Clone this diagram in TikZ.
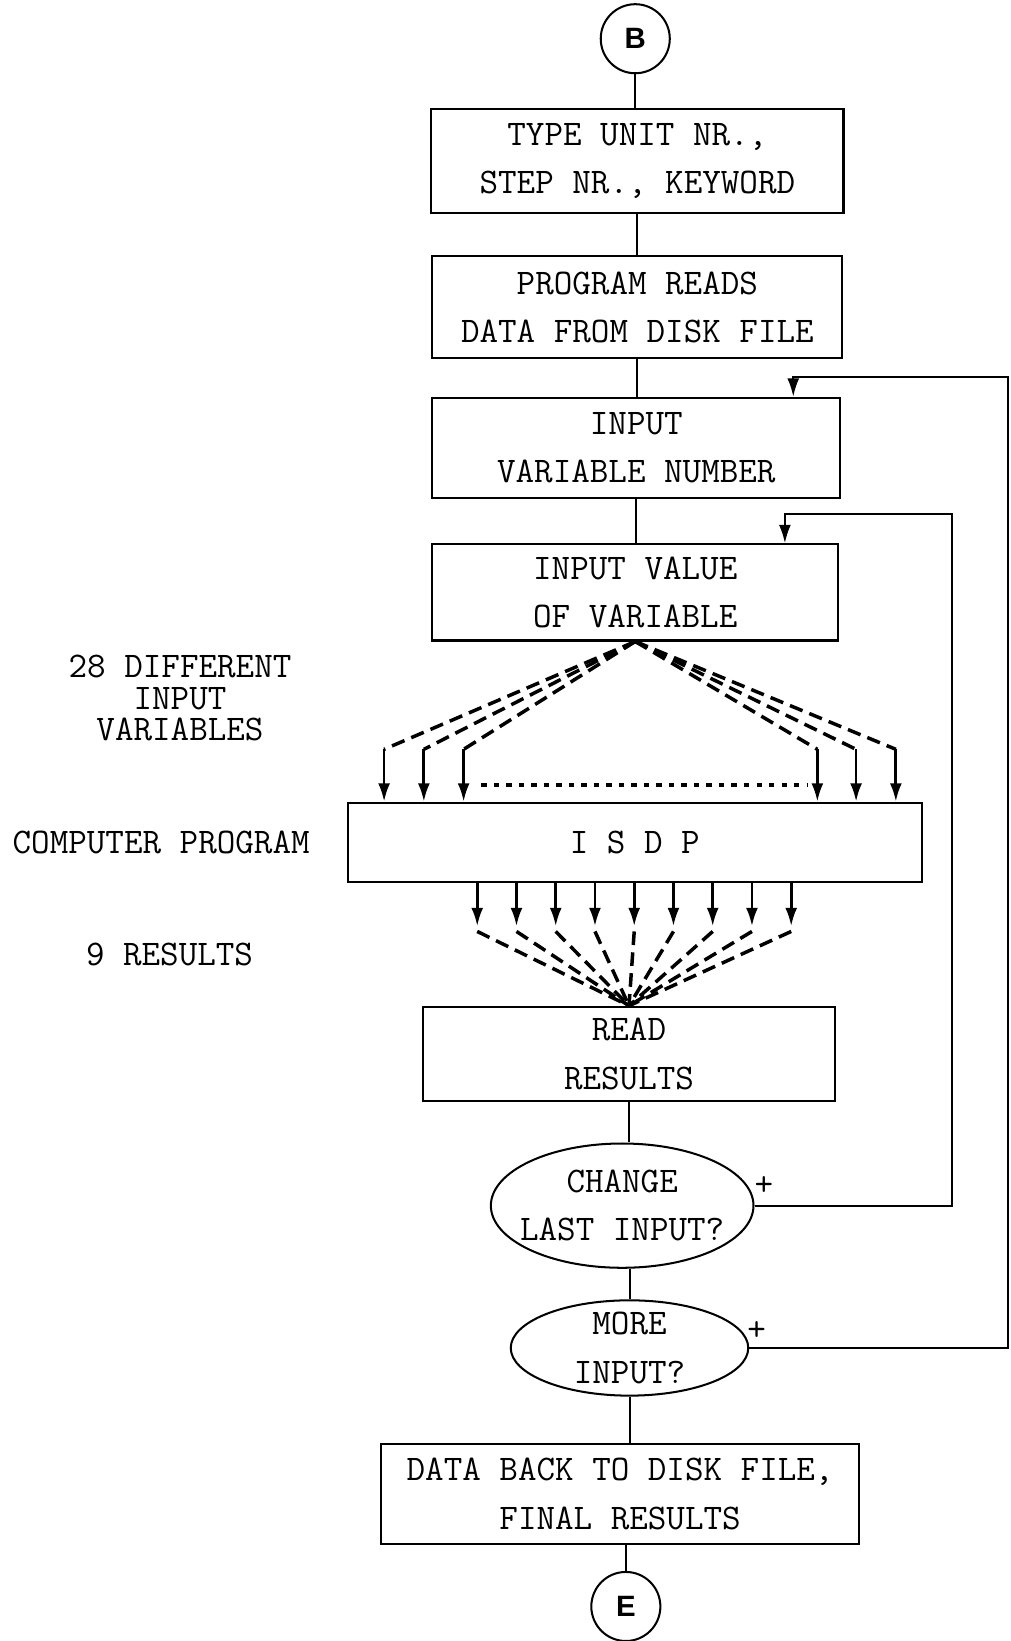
\documentclass[tikz,border=0pt]{standalone}
\usepackage{fontspec}
\newfontfamily\labelsans{Liberation Sans}
\usetikzlibrary{arrows.meta,shapes.geometric}
\tikzset{stepbox/.style={draw, line width=1.1pt, align=center, inner sep=0pt}}
\tikzset{decision/.style={draw, ellipse, line width=1.1pt, align=center}}
\tikzset{connector/.style={draw, circle, line width=1.1pt, minimum size=1.32cm, inner sep=0pt,
		font=\labelsans\bfseries\fontsize{16}{18}\selectfont}}
\tikzset{fan/.style={line width=1.9pt, dash pattern=on 0.26cm off 0.14cm}}
\tikzset{dotrow/.style={line width=1.8pt, dash pattern=on 2.8pt off 4pt}}
\tikzset{feed/.style={line width=1.5pt}}

\begin{document}
\begin{tikzpicture}[x=0.02cm, y=-0.02cm, line width=1.1pt, >={Latex[length=10pt,width=6.5pt]},
			font=\ttfamily\fontsize{19.6}{26.2}\selectfont]
			\useasboundingbox (0,0) rectangle (966,1568);
			\node[connector] at (607,37) (b) {B};
			\node[stepbox, minimum width=7.88cm, minimum height=2.0cm] at (609,154) (unit) {TYPE UNIT NR.,\\STEP NR., KEYWORD};
			\node[stepbox, minimum width=7.84cm, minimum height=1.94cm] at (609,293.5) (disk) {PROGRAM READS\\DATA FROM DISK FILE};
			\node[stepbox, minimum width=7.80cm, minimum height=1.92cm] at (608,428) (varnum) {INPUT\\VARIABLE NUMBER};
			\node[stepbox, minimum width=7.76cm, minimum height=1.84cm] at (607,566) (val) {INPUT VALUE\\OF VARIABLE};
			\node[stepbox, minimum width=10.98cm, minimum height=1.52cm] at (606.5,805) (isdp) {I S D P};
			\node[stepbox, minimum width=7.88cm, minimum height=1.80cm] at (601,1007) (res) {READ\\RESULTS};
			\node[decision, minimum width=5.02cm, minimum height=2.32cm, inner xsep=-0.23cm, inner ysep=0.16cm] at (594.5,1152) (chg) {CHANGE\\LAST INPUT?};
			\node[decision, minimum width=4.54cm, minimum height=1.76cm, inner xsep=0.3cm, inner ysep=-1pt] at (601.5,1288) (more) {MORE\\INPUT?};
			\node[stepbox, minimum width=9.14cm, minimum height=1.90cm] at (592.5,1427.5) (fin) {DATA BACK TO DISK FILE,\\FINAL RESULTS};
			\node[connector] at (598,1535) (e) {E};
			% side labels
			\node[align=center, font=\ttfamily\fontsize{19.6}{17.2}\selectfont] at (172,667) (nvar) {28 DIFFERENT\\INPUT\\VARIABLES};
			\node at (154,805) (prog) {COMPUTER PROGRAM};
			\node at (162,912) (nres) {9 RESULTS};
			\node at (730,1133) (plus1) {+};
			\node at (723,1272) (plus2) {+};
			% main line
			\draw (b.south) -- (b.south |- unit.north);
			\draw (unit.south) -- (unit.south |- disk.north);
			\draw (disk.south) -- (disk.south |- varnum.north);
			\draw (varnum.south) -- (varnum.south |- val.north);
			\draw (res.south) -- (res.south |- chg.north);
			\draw (more.north |- chg.south) -- (more.north);
			\draw (more.south) -- (more.south |- fin.north);
			\draw (e.north |- fin.south) -- (e.north);
			% input variables
			\coordinate (apex) at (val.south);
			\foreach \x [count=\i] in {367,405,443,781,818,856} {
				\coordinate (v\i) at (\x,716);
				\draw[fan] (apex) -- (v\i);
				\draw[->, feed] (v\i) -- (v\i |- isdp.north);
			}
			\draw[dotrow] (460,750) -- (772,750);
			% results
			\foreach \i in {0,...,8} {
				\coordinate (r\i) at (456+37.5*\i,885);
				\draw[->, feed] (isdp.south -| r\i) -- (r\i);
				\draw[fan] ([yshift=-0.1cm]r\i) -- (res.north);
			}
			% loops back
			\coordinate (back1) at (910,491);
			\coordinate (back2) at (963,360);
			\draw[->] (chg.east) -| (back1) -| ([xshift=2.86cm]val.north);
			\draw[->] (more.east) -| (back2) -| ([xshift=3cm]varnum.north);
\end{tikzpicture}
\end{document}
